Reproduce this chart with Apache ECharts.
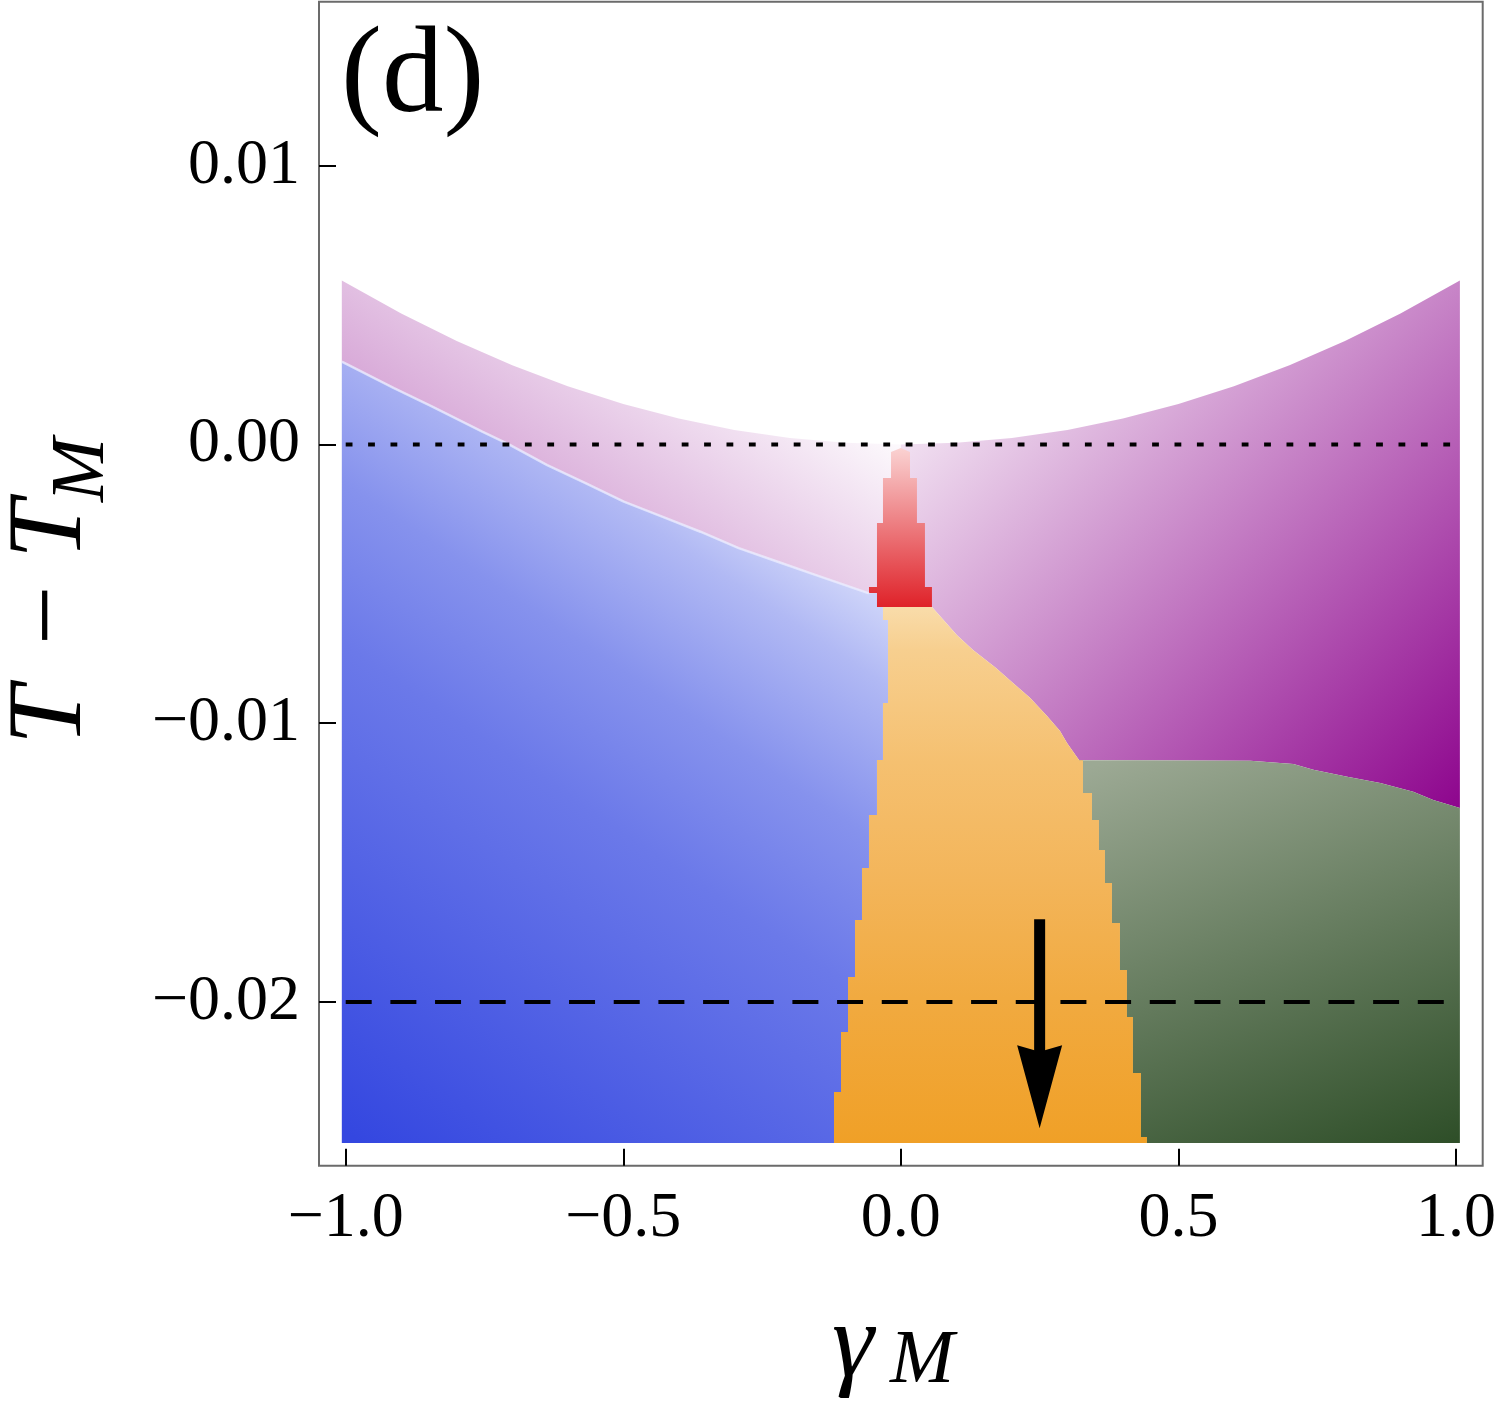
<!DOCTYPE html>
<html><head><meta charset="utf-8">
<script src="https://cdn.jsdelivr.net/npm/echarts@6/dist/echarts.min.js"></script>
<style>html,body{margin:0;padding:0;background:#fff}#c{width:1500px;height:1402px}</style>
</head><body><div id="c"></div>
<script>
// ---- axis ticks ----
const gammaTicks = [-1.0, -0.5, 0.0, 0.5, 1.0];
const tTicks = [0.01, 0.0, -0.01, -0.02];

// ---- phase boundaries: [gamma_M, T - T_M] ----
const topEdge = [[-1.007,0.00588],[-0.9,0.0047],[-0.8,0.00371],[-0.7,0.00284],[-0.6,0.00209],[-0.5,0.00145],[-0.4,0.00093],[-0.3,0.00052],[-0.2,0.00023],[-0.1,0.00006],[0,0],[0.1,0.00006],[0.2,0.00023],[0.3,0.00052],[0.4,0.00093],[0.5,0.00145],[0.6,0.00209],[0.7,0.00284],[0.8,0.00371],[0.9,0.0047],[1.007,0.00588]];
const bluePinkEdge = [[-1.007,0.00297],[-0.913,0.00202],[-0.844,0.00136],[-0.754,0.00046],[-0.706,0.0],[-0.637,-0.00074],[-0.568,-0.00139],[-0.499,-0.00205],[-0.430,-0.00259],[-0.361,-0.00313],[-0.292,-0.00372],[-0.223,-0.0042],[-0.154,-0.00468],[-0.0574,-0.00534]];
const redSpike = [[0,-0.00013],[0.0165,-0.00027],[0.0165,-0.0012],[0.029,-0.0012],[0.029,-0.00282],[0.0434,-0.00282],[0.0434,-0.00511],[0.056,-0.00511],[0.056,-0.00583],[-0.043,-0.00583],[-0.043,-0.00533],[-0.0574,-0.00533],[-0.0574,-0.00511],[-0.043,-0.00511],[-0.043,-0.00282],[-0.0322,-0.00282],[-0.0322,-0.0012],[-0.0177,-0.0012],[-0.0177,-0.00027]];
const orangeLeftEdge = [[-0.0322,-0.00583],[-0.0322,-0.00630],[-0.0231,-0.00630],[-0.0231,-0.00927],[-0.0322,-0.00927],[-0.0322,-0.01132],[-0.0430,-0.01132],[-0.0430,-0.01329],[-0.0574,-0.01329],[-0.0574,-0.01519],[-0.0700,-0.01519],[-0.0700,-0.01706],[-0.0826,-0.01706],[-0.0826,-0.01910],[-0.0952,-0.01910],[-0.0952,-0.02108],[-0.1078,-0.02108],[-0.1078,-0.02323],[-0.1204,-0.02323],[-0.1204,-0.02506]];
const orangePurpleEdge = [[0.0561,-0.00583],[0.1012,-0.00684],[0.1300,-0.00737],[0.1714,-0.00802],[0.2020,-0.00856],[0.2326,-0.00909],[0.2633,-0.00974],[0.2867,-0.01028],[0.2993,-0.01071],[0.3209,-0.01132]];
const orangeGreenEdge = [[0.3209,-0.01132],[0.3281,-0.01132],[0.3281,-0.01250],[0.3443,-0.01250],[0.3443,-0.01347],[0.3569,-0.01347],[0.3569,-0.01455],[0.3677,-0.01455],[0.3677,-0.01573],[0.3803,-0.01573],[0.3803,-0.01717],[0.3947,-0.01717],[0.3947,-0.01885],[0.4073,-0.01885],[0.4073,-0.02054],[0.4181,-0.02054],[0.4181,-0.02255],[0.4325,-0.02255],[0.4325,-0.02484],[0.4433,-0.02484],[0.4433,-0.02506]];
const greenPurpleEdge = [[0.3209,-0.01132],[0.6295,-0.01135],[0.7070,-0.01146],[0.7430,-0.01167],[0.8041,-0.01192],[0.8636,-0.01214],[0.9230,-0.01246],[0.9590,-0.01275],[1.007,-0.01304]];
const plotBottom = [[-1.007,-0.02506],[1.007,-0.02506]];

// ---- guide lines and arrow ----
const dottedLine = [[-1,0],[1,0]];
const dashedLine = [[-1,-0.02],[1,-0.02]];
const arrow = [[0.25,-0.01703,-0.02453]];

// ---- assemble region polygons ----
const leftTop = topEdge.filter(p => p[0] <= 0);
const rightTop = topEdge.filter(p => p[0] >= 0);
const rev = a => a.slice().reverse();

const regions = [
  { name:'pink', pts:[...leftTop,[0,-0.0053],[-0.0574,-0.00534],...rev(bluePinkEdge).slice(1)],
    g:{from:[0.0177,0.000527],to:[-0.8325,-0.02344],stops:[[0,'#ffffff'],[1,'#8b008b']]} },
  { name:'purple', pts:[...rightTop,...rev(greenPurpleEdge),...rev(orangePurpleEdge),[0,-0.00583]],
    g:{from:[-0.115,0.00231],to:[0.8306,-0.01717],stops:[[0,'#ffffff'],[1,'#8b008b']]} },
  { name:'blue', pts:[...bluePinkEdge,[-0.043,-0.00533],[-0.043,-0.00583],...orangeLeftEdge,plotBottom[0]],
    g:{from:[-1.0067,-0.02459],to:[-0.2609,-0.0026],stops:[[0,'#3447e0'],[0.545,'#6b79e9'],[0.727,'#8692ed'],[0.91,'#b1b9f4'],[1,'#ced4f9']]} },
  { name:'orange', pts:[...orangePurpleEdge,...orangeGreenEdge,...rev(orangeLeftEdge)],
    g:{from:[0,-0.00583],to:[0,-0.02506],stops:[[0,'#f9dcaa'],[0.08,'#f7cf8f'],[0.29,'#f5c070'],[0.51,'#f3b55a'],[0.73,'#f1aa40'],[1,'#f0a027']]} },
  { name:'green', pts:[...greenPurpleEdge,plotBottom[1],...rev(orangeGreenEdge)],
    g:{from:[0.3409,-0.01157],to:[0.6399,-0.0276],stops:[[0,'#9ca994'],[1,'#2f4f29']]} },
  { name:'red', pts:redSpike,
    g:{from:[0,-0.00013],to:[0,-0.00583],stops:[[0,'#fad2d2'],[1,'#df2229']]} }
];

const SERIF = '"Liberation Serif","Times New Roman",serif';
const fmt = d => v => (v < 0 ? '\u2212' : '') + Math.abs(v).toFixed(d);
const txt = (x, y, text, font) => ({type:'text', x, y, style:{text, font:font+' '+SERIF, fill:'#000', align:'left', verticalAlign:'middle'}});

const chart = echarts.init(document.getElementById('c'), null, {renderer:'canvas'});
chart.setOption({
  animation:false,
  backgroundColor:'#ffffff',
  grid:{left:319, right:17.3, top:1.7, bottom:236.3, show:true, borderColor:'#6b6b6b', borderWidth:2, backgroundColor:'transparent', containLabel:false, outerBoundsMode:'none'},
  xAxis:{type:'value', min:-1.0481, max:1.0481, position:'bottom',
    axisLine:{show:false, onZero:false}, splitLine:{show:false},
    axisTick:{show:true, inside:true, length:17, customValues:gammaTicks, lineStyle:{color:'#000', width:2}},
    axisLabel:{show:true, customValues:gammaTicks, formatter:fmt(1), fontSize:64, fontFamily:SERIF, color:'#000', margin:21}},
  yAxis:{type:'value', min:-0.025872, max:0.015883, position:'left',
    axisLine:{show:false, onZero:false}, splitLine:{show:false},
    axisTick:{show:true, inside:true, length:17, customValues:tTicks, lineStyle:{color:'#000', width:2}},
    axisLabel:{show:true, customValues:tTicks, formatter:fmt(2), fontSize:64, fontFamily:SERIF, color:'#000', margin:19}},
  graphic:[
    txt(341, 79, '(d)', '123px'),
    {type:'group', x:88, y:730, rotation:Math.PI/2, children:[
      txt(-15, -36, 'T', 'italic 106px'),
      txt(85, -36, '\u2212', '106px'),
      txt(171, -36, 'T', 'italic 106px'),
      txt(228, -5, 'M', 'italic 77px')
    ]},
    txt(832, 1347, '\u03B3', 'italic 106px'),
    txt(890, 1362, 'M', 'italic 77px')
  ],
  series:[
    {type:'custom', name:'phases', z:2, silent:true, clip:false,
      data: regions.map(() => [0, 0]),
      renderItem:(params, api) => {
        const r = regions[params.dataIndex];
        const a = api.coord(r.g.from), b = api.coord(r.g.to);
        return {type:'polygon', shape:{points:r.pts.map(p => api.coord(p))},
          style:{fill:{type:'linear', x:a[0], y:a[1], x2:b[0], y2:b[1], global:true,
            colorStops:r.g.stops.map(s => ({offset:s[0], color:s[1]}))}}};
      }},
    {type:'line', name:'edge glow', z:3, silent:true, symbol:'none', data:bluePinkEdge,
      lineStyle:{color:'rgba(236,238,255,0.75)', width:2.5}},
    {type:'line', name:'T=TM', z:3, silent:true, symbol:'none', data:dottedLine,
      lineStyle:{color:'#000', width:4, type:[6.8,15.6], cap:'butt'}},
    {type:'line', name:'cut', z:3, silent:true, symbol:'none', data:dashedLine,
      lineStyle:{color:'#000', width:4, type:[26,18.67], cap:'butt'}},
    {type:'custom', name:'arrow', z:4, silent:true, clip:false, data:arrow,
      renderItem:(params, api) => {
        const s = api.coord([api.value(0), api.value(1)]);
        const t = api.coord([api.value(0), api.value(2)]);
        return {type:'group', children:[
          {type:'rect', shape:{x:s[0]-5.5, y:s[1], width:11, height:(t[1]-76)-s[1]}, style:{fill:'#000'}},
          {type:'polygon', shape:{points:[[t[0],t[1]],[t[0]+22.5,t[1]-83],[t[0],t[1]-76.5],[t[0]-22.5,t[1]-83]]}, style:{fill:'#000'}}
        ]};
      }}
  ]
});
</script></body></html>
